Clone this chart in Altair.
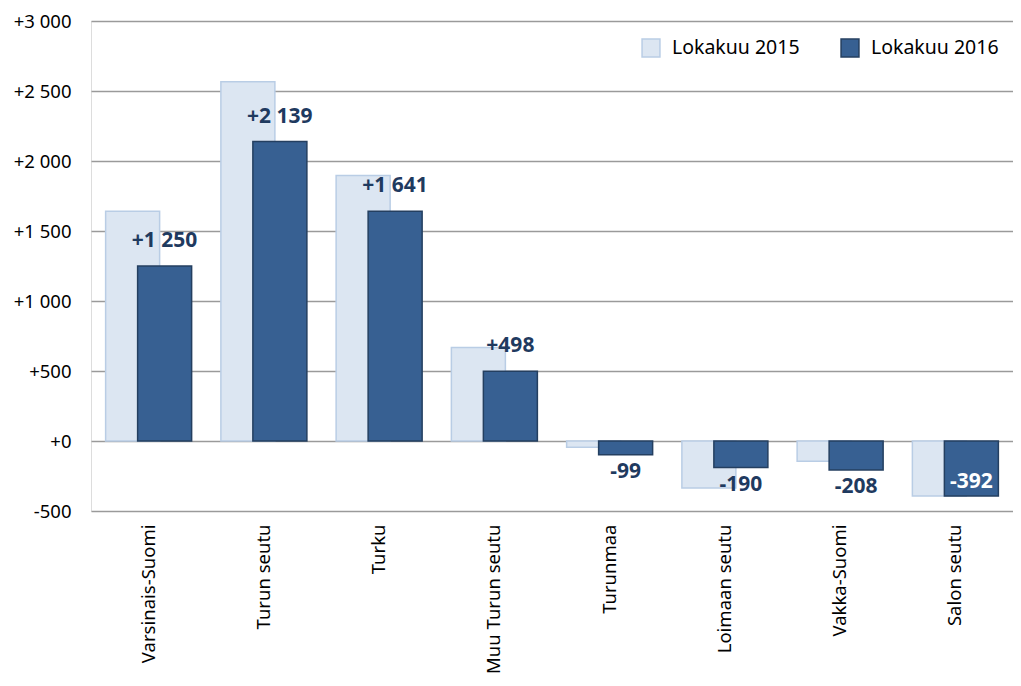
import altair as alt
import pandas as pd

categories = ["Varsinais-Suomi", "Turun seutu", "Turku", "Muu Turun seutu",
              "Turunmaa", "Loimaan seutu", "Vakka-Suomi", "Salon seutu"]
values_2015 = [1641, 2566, 1897, 667, -45, -336, -144, -393]
values_2016 = [1250, 2139, 1641, 498, -99, -190, -208, -392]
series = ["Lokakuu 2015", "Lokakuu 2016"]
y_ticks = [-500, 0, 500, 1000, 1500, 2000, 2500, 3000]


def fmt(v):
    s = f"{abs(v):,}".replace(",", " ")
    return ("+" if v >= 0 else "-") + s


rows = []
for c, a, b in zip(categories, values_2015, values_2016):
    rows.append({"cat": c, "series": series[0], "value": a, "label": fmt(a), "pos": "none"})
    pos = "above" if b >= 0 else "below"
    rows.append({"cat": c, "series": series[1], "value": b, "label": fmt(b), "pos": pos})
df = pd.DataFrame(rows)
# largest negative label sits inside its bar
df.loc[(df.series == series[1]) & (df.value == min(values_2016)), "pos"] = "inside"

FONT = "Noto Sans"
fill_scale = alt.Scale(domain=series, range=["#dce6f2", "#376092"])
stroke_scale = alt.Scale(domain=series, range=["#b9cde5", "#243f60"])

x_enc = alt.X("cat:N", sort=categories, title=None,
              scale=alt.Scale(paddingInner=0, paddingOuter=0),
              axis=alt.Axis(labelAngle=-90, labelAlign="right", labelBaseline="middle",
                            labelFontSize=18.5, labelColor="#000", labelPadding=13,
                            ticks=False, domain=False, grid=False, labelFont=FONT))
y_enc = alt.Y("value:Q", title=None,
              scale=alt.Scale(domain=[-500, 3000], nice=False, zero=False),
              axis=alt.Axis(values=y_ticks, grid=True, gridColor="#9a9a9a", gridWidth=1.5,
                            domain=False, ticks=False, labelPadding=20,
                            labelFontSize=18.5, labelColor="#000", labelFont=FONT,
                            labelExpr="(datum.value >= 0 ? '+' : '-') + replace(format(abs(datum.value), ','), ',', ' ')"))

legend = alt.Legend(title=None, orient="none", legendX=550, legendY=17,
                    direction="horizontal", symbolType="square",
                    symbolSize=320, symbolStrokeWidth=1.5,
                    labelFontSize=19.5, labelFont=FONT, labelColor="#000",
                    labelOffset=11, columnPadding=38, padding=0)

base = alt.Chart(df)

bars15 = base.transform_filter(alt.datum.series == series[0]).mark_bar(
    width=54, xOffset=-16, strokeWidth=1.5).encode(
    x=x_enc, y=y_enc,
    fill=alt.Fill("series:N", scale=fill_scale, legend=legend),
    stroke=alt.Stroke("series:N", scale=stroke_scale, legend=legend),
)
bars16 = base.transform_filter(alt.datum.series == series[1]).mark_bar(
    width=54, xOffset=16, strokeWidth=1.5).encode(
    x=x_enc, y=y_enc,
    fill=alt.Fill("series:N", scale=fill_scale),
    stroke=alt.Stroke("series:N", scale=stroke_scale),
)

txt_common = dict(font=FONT, fontSize=21, fontWeight="bold", xOffset=16, baseline="middle")
lab_above = base.transform_filter(alt.datum.pos == "above").mark_text(
    dy=-25, color="#1f3a5f", **txt_common).encode(x=x_enc, y=y_enc, text="label:N")
lab_below = base.transform_filter(alt.datum.pos == "below").mark_text(
    dy=17, color="#1f3a5f", **txt_common).encode(x=x_enc, y=y_enc, text="label:N")
lab_inside = base.transform_filter(alt.datum.pos == "inside").mark_text(
    dy=-14, color="#ffffff", **txt_common).encode(x=x_enc, y=y_enc, text="label:N")

chart = alt.layer(bars15, bars16, lab_above, lab_below, lab_inside).properties(
    width=922, height=490,
    autosize=alt.AutoSizeParams(type="none"),
    padding={"top": 13, "left": 83, "right": 0, "bottom": 166},
).configure_view(strokeWidth=0).configure_axis(domain=False).configure(background="white")

chart.save("out.html", embed_options={"renderer": "svg", "actions": False})
